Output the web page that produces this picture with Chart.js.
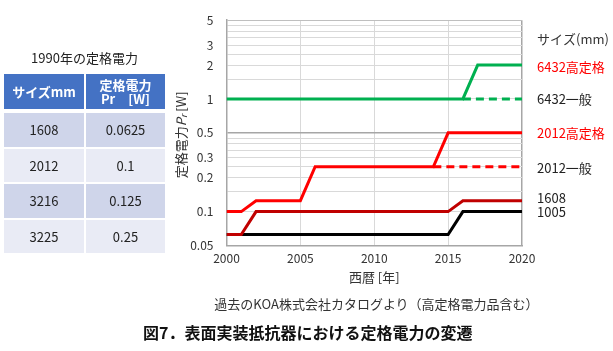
<!DOCTYPE html>
<html lang="ja">
<head>
<meta charset="utf-8">
<title>表面実装抵抗器における定格電力の変遷</title>
<script src="https://cdn.jsdelivr.net/npm/chart.js@4"></script>
<style>
  html, body { margin: 0; padding: 0; background: #fff; }
  body { width: 613px; height: 351px; position: relative; overflow: hidden;
         font-family: "Noto Sans CJK JP", "Noto Sans", sans-serif; color: #222; }
  #chart { position: absolute; left: 0; top: 0; }
  #tblTitle { position: absolute; left: 4px; width: 161px; top: 48px; text-align: center; font-size: 13px; }
  #tbl { position: absolute; left: 4px; top: 74px; display: grid;
         grid-template-columns: 80px 79px; grid-template-rows: 35px 0 33.5px 33.5px 33.5px 33.5px;
         gap: 2px; font-size: 13px; }
  #tbl div { display: flex; align-items: center; justify-content: center; text-align: center; }
  #tbl .h { background: #4472C4; color: #fff; font-weight: bold; line-height: 14px; }
  #tbl .sp { background: none; }
  #tbl .a { background: #CFD5EA; }
  #tbl .b { background: #E9EBF5; }
  #src { position: absolute; left: 170px; width: 413px; top: 294px; text-align: center; font-size: 13px; color: #333; }
  #cap { position: absolute; left: 143px; top: 320px; font-size: 16px; font-weight: bold; color: #111; white-space: nowrap; }
</style>
</head>
<body>
<canvas id="chart" width="613" height="351"></canvas>
<div id="tblTitle"></div>
<div id="tbl"></div>
<div id="src">過去のKOA株式会社カタログより（高定格電力品含む）</div>
<div id="cap">図7．表面実装抵抗器における定格電力の変遷</div>
<script>
// ---------- 1990年の定格電力 (表) ----------
const tableTitle = '1990年の定格電力';
const tableHead = ['サイズmm', '定格電力<br>Pr　[W]'];
const tableSizes = ['1608', '2012', '3216', '3225'];
const tablePower = ['0.0625', '0.1', '0.125', '0.25'];

// ---------- 定格電力の推移 (グラフ) ----------
const years = [2000, 2001, 2002, 2003, 2004, 2005, 2006, 2007, 2008, 2009, 2010,
               2011, 2012, 2013, 2014, 2015, 2016, 2017, 2018, 2019, 2020];
const s6432hi  = [1, 1, 1, 1, 1, 1, 1, 1, 1, 1, 1, 1, 1, 1, 1, 1, 1, 2, 2, 2, 2];
const s6432gen = [null, null, null, null, null, null, null, null, null, null, null,
                  null, null, null, null, null, 1, 1, 1, 1, 1];
const s2012hi  = [0.1, 0.1, 0.125, 0.125, 0.125, 0.125, 0.25, 0.25, 0.25, 0.25, 0.25,
                  0.25, 0.25, 0.25, 0.25, 0.5, 0.5, 0.5, 0.5, 0.5, 0.5];
const s2012gen = [null, null, null, null, null, null, null, null, null, null, null,
                  null, null, null, 0.25, 0.25, 0.25, 0.25, 0.25, 0.25, 0.25];
const s1608    = [0.0625, 0.0625, 0.1, 0.1, 0.1, 0.1, 0.1, 0.1, 0.1, 0.1, 0.1,
                  0.1, 0.1, 0.1, 0.1, 0.1, 0.125, 0.125, 0.125, 0.125, 0.125];
const s1005    = [0.0625, 0.0625, 0.0625, 0.0625, 0.0625, 0.0625, 0.0625, 0.0625, 0.0625, 0.0625, 0.0625,
                  0.0625, 0.0625, 0.0625, 0.0625, 0.0625, 0.1, 0.1, 0.1, 0.1, 0.1];
const seriesNames = ['6432高定格', '6432一般', '2012高定格', '2012一般', '1608', '1005'];
const yGrid   = [0.05, 0.1, 0.15, 0.2, 0.25, 0.3, 0.35, 0.4, 0.45, 0.5,
                 1, 1.5, 2, 2.5, 3, 3.5, 4, 4.5, 5];
const yLabels = [0.05, 0.1, 0.2, 0.3, 0.5, 1, 2, 3, 5];
const xLabels = [2000, 2005, 2010, 2015, 2020];

// 表
document.getElementById('tblTitle').textContent = tableTitle;
let cells = tableHead.map(t => '<div class="h">' + t + '</div>').join('') + '<div class="sp"></div><div class="sp"></div>';
tableSizes.forEach((s, i) => {
  const c = i % 2 ? 'b' : 'a';
  cells += '<div class="' + c + '">' + s + '</div><div class="' + c + '">' + tablePower[i] + '</div>';
});
document.getElementById('tbl').innerHTML = cells;

const FONT = '"Noto Sans CJK JP", "Noto Sans", sans-serif';
Chart.defaults.font.family = FONT;
Chart.defaults.color = '#333';

const pts = arr => years.map((x, i) => ({ x, y: arr[i] }));
const line = (label, arr, color, dash) => ({
  label, data: pts(arr), borderColor: color, backgroundColor: color,
  borderWidth: 3, pointRadius: 0, tension: 0, borderDash: dash || [],
  borderCapStyle: 'butt', borderJoinStyle: 'miter',
});

// 右側の系列名 + Y軸タイトル (P は斜体, r は下付き)
const labelColors = ['#FF0000', '#222', '#FF0000', '#222', '#222', '#222'];
const labelDy = [2, 0, 0, 1, -3, 0];
const extraText = {
  id: 'extraText',
  afterDraw(chart) {
    const { ctx, chartArea, scales } = chart;
    const y = scales.y;
    ctx.save();
    ctx.textBaseline = 'middle';
    ctx.textAlign = 'left';
    ctx.font = '13px ' + FONT;
    ctx.fillStyle = '#333';
    ctx.fillText('サイズ(mm)', chartArea.right + 15, chartArea.top + 19);
    chart.data.datasets.forEach((ds, i) => {
      const last = ds.data[ds.data.length - 1].y;
      ctx.fillStyle = labelColors[i];
      ctx.fillText(seriesNames[i], chartArea.right + 15, y.getPixelForValue(last) + labelDy[i]);
    });
    // Y軸タイトル
    const parts = [
      { t: '定格電力', f: '13px ' + FONT, dy: 0 },
      { t: 'P', f: 'italic 13px ' + FONT, dy: 0 },
      { t: 'r', f: 'italic 9px ' + FONT, dy: 3 },
      { t: ' [W]', f: '13px ' + FONT, dy: 0 },
    ];
    let total = 0;
    parts.forEach(p => { ctx.font = p.f; p.w = ctx.measureText(p.t).width; total += p.w; });
    ctx.translate(181, (chartArea.top + chartArea.bottom) / 2 + 2);
    ctx.rotate(-Math.PI / 2);
    ctx.fillStyle = '#333';
    let x = -total / 2;
    parts.forEach(p => { ctx.font = p.f; ctx.fillText(p.t, x, p.dy); x += p.w; });
    ctx.restore();
  }
};

new Chart(document.getElementById('chart'), {
  type: 'line',
  data: {
    datasets: [
      line(seriesNames[0], s6432hi, '#00B050'),
      line(seriesNames[1], s6432gen, '#00B050', [8, 5]),
      line(seriesNames[2], s2012hi, '#FF0000'),
      line(seriesNames[3], s2012gen, '#FF0000', [8, 5]),
      line(seriesNames[4], s1608, '#C00000'),
      line(seriesNames[5], s1005, '#000000'),
    ]
  },
  options: {
    responsive: false, animation: false,
    layout: { padding: { left: 176.5, right: 91, top: 7.5, bottom: 65.5 } },
    plugins: { legend: { display: false }, tooltip: { enabled: false } },
    scales: {
      x: {
        type: 'linear', min: 2000, max: 2020,
        afterBuildTicks: s => { s.ticks = xLabels.map(v => ({ value: v })); },
        afterFit: s => { s.height = 40; },
        ticks: { font: { size: 12 }, padding: 6, color: '#333', callback: v => String(v) },
        grid: { drawTicks: false, color: c => c.tick && c.tick.value === 2020 ? '#A6A6A6' : '#D9D9D9',
                lineWidth: c => c.tick && c.tick.value === 2020 ? 1.5 : 1 },
        border: { color: '#A6A6A6', width: 1.5 },
        title: { display: true, text: '西暦 [年]', font: { size: 13 }, color: '#333', padding: { top: 0, bottom: 1 } },
      },
      y: {
        type: 'logarithmic', min: 0.05, max: 5,
        afterBuildTicks: s => { s.ticks = yGrid.map(v => ({ value: v })); },
        afterFit: s => { s.width = 50; },
        ticks: { font: { size: 12 }, padding: 13, color: '#333', autoSkip: false,
                 callback: v => yLabels.includes(v) ? String(v) : '' },
        grid: { drawTicks: false,
                color: c => !c.tick ? '#D9D9D9' : c.tick.value === 0.5 ? '#A6A6A6' : c.tick.value === 5 ? '#BFBFBF' : '#D9D9D9',
                lineWidth: c => c.tick && c.tick.value === 0.5 ? 1.5 : 1 },
        border: { color: '#A6A6A6', width: 1.5 },
      }
    }
  },
  plugins: [extraText]
});
</script>
</body>
</html>
